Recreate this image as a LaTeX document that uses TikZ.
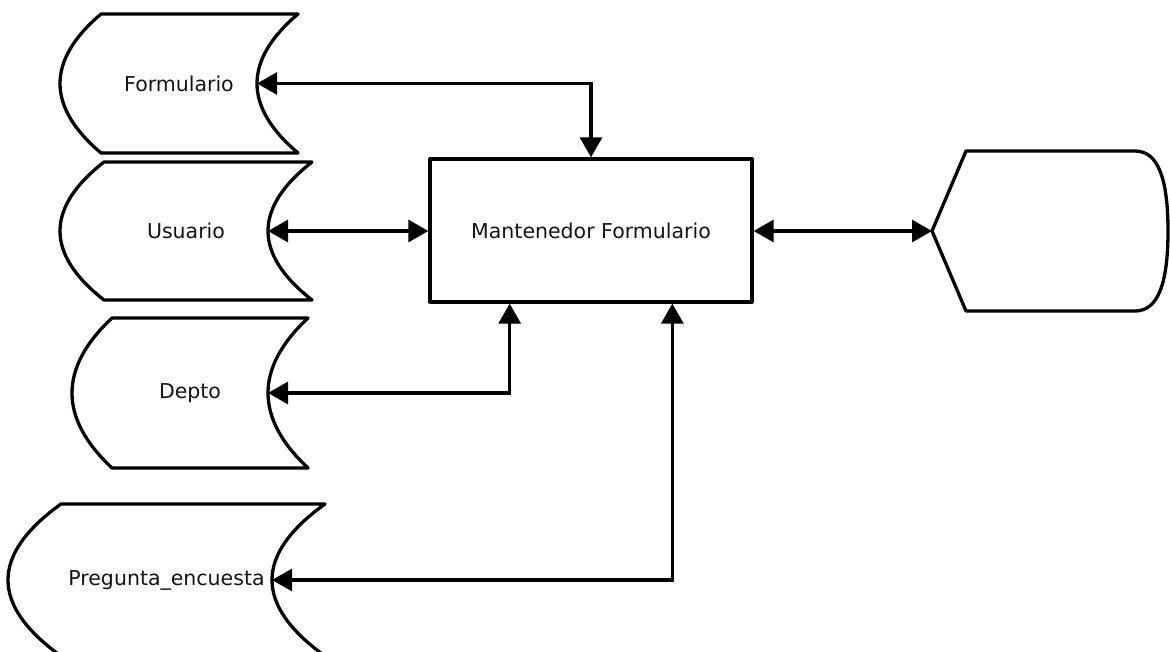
\documentclass[tikz,border=0pt]{standalone}
\usepackage{fontspec}
\setmainfont{DejaVu Sans}
\usetikzlibrary{arrows.meta,calc}
\tikzset{
  shapeline/.style={line width=3.3pt, draw=black, fill=white, line join=round},
  lbl/.style={text=black!92, font=\fontsize{20.5}{24}\selectfont, inner sep=0pt},
  arr/.style={line width=3.1pt, {Triangle[length=20pt,width=22pt]}-{Triangle[length=20pt,width=22pt]}},
}
\newcommand\dstore[7]{%
  \pgfmathsetmacro\dsmid{(#4+#5)/2}%
  \pgfmathsetmacro\dsthird{(#5-#4)/3}%
  \draw[shapeline] (#2+#6,#4) -- (#3,#4)
    .. controls (#3-4*#6/3,#4+\dsthird) and (#3-4*#6/3,#5-\dsthird) .. (#3,#5)
    -- (#2+#6,#5)
    .. controls (#2-#6/3,#5-\dsthird) and (#2-#6/3,#4+\dsthird) .. cycle;
  \node[lbl] (#1) at ({(#2+#3)/2},\dsmid) {#7};
  \coordinate (#1R) at (#3-#6,\dsmid);
}
\begin{document}
\begin{tikzpicture}[x=1pt,y=-1pt]
\useasboundingbox (0,0) rectangle (1170,652);
\clip (0,0) rectangle (1170,652);
\fill[white] (0,0) rectangle (1170,652);

\dstore{form}{60}{298}{14}{153}{41}{Formulario}
\dstore{usr}{60}{312}{162}{300}{44}{Usuario}
\dstore{dep}{72}{308}{318}{468}{40}{Depto}
\dstore{preg}{8}{325}{504}{656}{53}{Pregunta\_encuesta}

\node[shapeline, lbl, minimum width=322pt, minimum height=143pt, inner sep=0pt] (main) at (591,230.5) {Mantenedor Formulario};

% display shape
\draw[shapeline] (932,231) -- (966,151) -- (1135,151)
  .. controls (1157.7,151) and (1168,177.7) .. (1168,231)
  .. controls (1168,284.3) and (1157.7,311) .. (1135,311)
  -- (966,311) -- cycle;
\coordinate (disp) at (932,231);

\coordinate (mainS1) at ($(main.south west)!0.25!(main.south east)$);
\coordinate (mainS2) at ($(main.south west)!0.75!(main.south east)$);

\draw[arr] (formR) -| (main.north);
\draw[arr] (usrR) -- (usrR -| main.west);
\draw[arr] (depR) -| (mainS1);
\draw[arr] (pregR) -| (mainS2);
\draw[arr] (main.east |- disp) -- (disp);
\end{tikzpicture}
\end{document}
